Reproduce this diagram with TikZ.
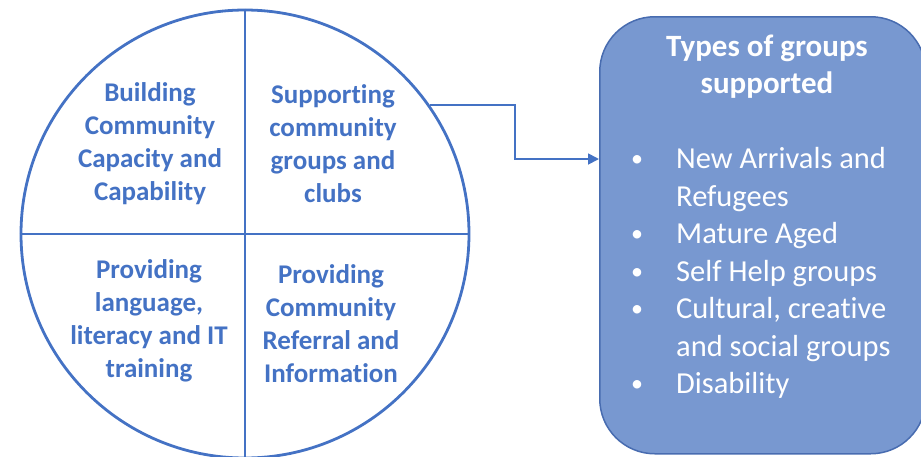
\documentclass[tikz,border=0pt]{standalone}
\usepackage{fontspec}
\setmainfont{Carlito}[Ligatures=NoCommon]
\usetikzlibrary{arrows.meta}
\definecolor{ringblue}{RGB}{68,114,196}
\definecolor{boxfill}{RGB}{120,152,208}
\definecolor{boxline}{RGB}{72,108,176}
\tikzset{
  quad/.style={text=ringblue, align=center, font=\bfseries\fontsize{27}{33}\selectfont, inner sep=0pt},
  item/.style={text=white, anchor=base west, font=\fontsize{30.5}{37}\selectfont, inner sep=0pt},
  dot/.style={text=white, anchor=base, font=\fontsize{24}{30}\selectfont, inner sep=0pt},
}
\begin{document}
\begin{tikzpicture}[x=1pt,y=-1pt]
\useasboundingbox (0,0) rectangle (921,456);
\node[circle, draw=ringblue, line width=2.8pt, minimum size=448pt, inner sep=0pt] (c) at (245,234) {};
\draw[ringblue, line width=2.8pt] (c.north) -- (c.south);
\draw[ringblue, line width=2.8pt] (c.west) -- (c.east);
\node[quad] (q1) at (150,144) {Building\\Community\\Capacity and\\Capability};
\node[quad] (q2) at (333,144) {Supporting\\community\\groups and\\clubs};
\node[quad] (q3) at (149,321) {Providing\\language,\\literacy and IT\\training};
\node[quad] (q4) at (331,324) {Providing\\Community\\Referral and\\Information};
\node[draw=boxline, fill=boxfill, line width=1.5pt, rounded corners=55pt, minimum width=326pt, minimum height=437pt, anchor=north west] (box) at (599,16) {};
\node[text=white, align=center, font=\bfseries\fontsize{31}{37}\selectfont, inner sep=0pt] (title) at (767,67) {Types of groups\\supported};
\coordinate (k) at (515,159);
\draw[ringblue, line width=1.8pt, -{Triangle[length=11pt,width=11pt]}] (c.35) -| (k) -- (k -| box.west);
\node[item] (i1) at (676,168) {New Arrivals and};
\node[item] (i1b) at (676,206) {Refugees};
\node[item] (i2) at (676,243) {Mature Aged};
\node[item] (i3) at (676,281) {Self Help groups};
\node[item] (i4) at (676,318) {Cultural, creative};
\node[item] (i4b) at (676,356) {and social groups};
\node[item] (i5) at (676,393) {Disability};
\node[dot] (d1) at (637,166) {•};
\node[dot] (d2) at (637,241) {•};
\node[dot] (d3) at (637,279) {•};
\node[dot] (d4) at (637,316) {•};
\node[dot] (d5) at (637,391) {•};
\end{tikzpicture}
\end{document}
